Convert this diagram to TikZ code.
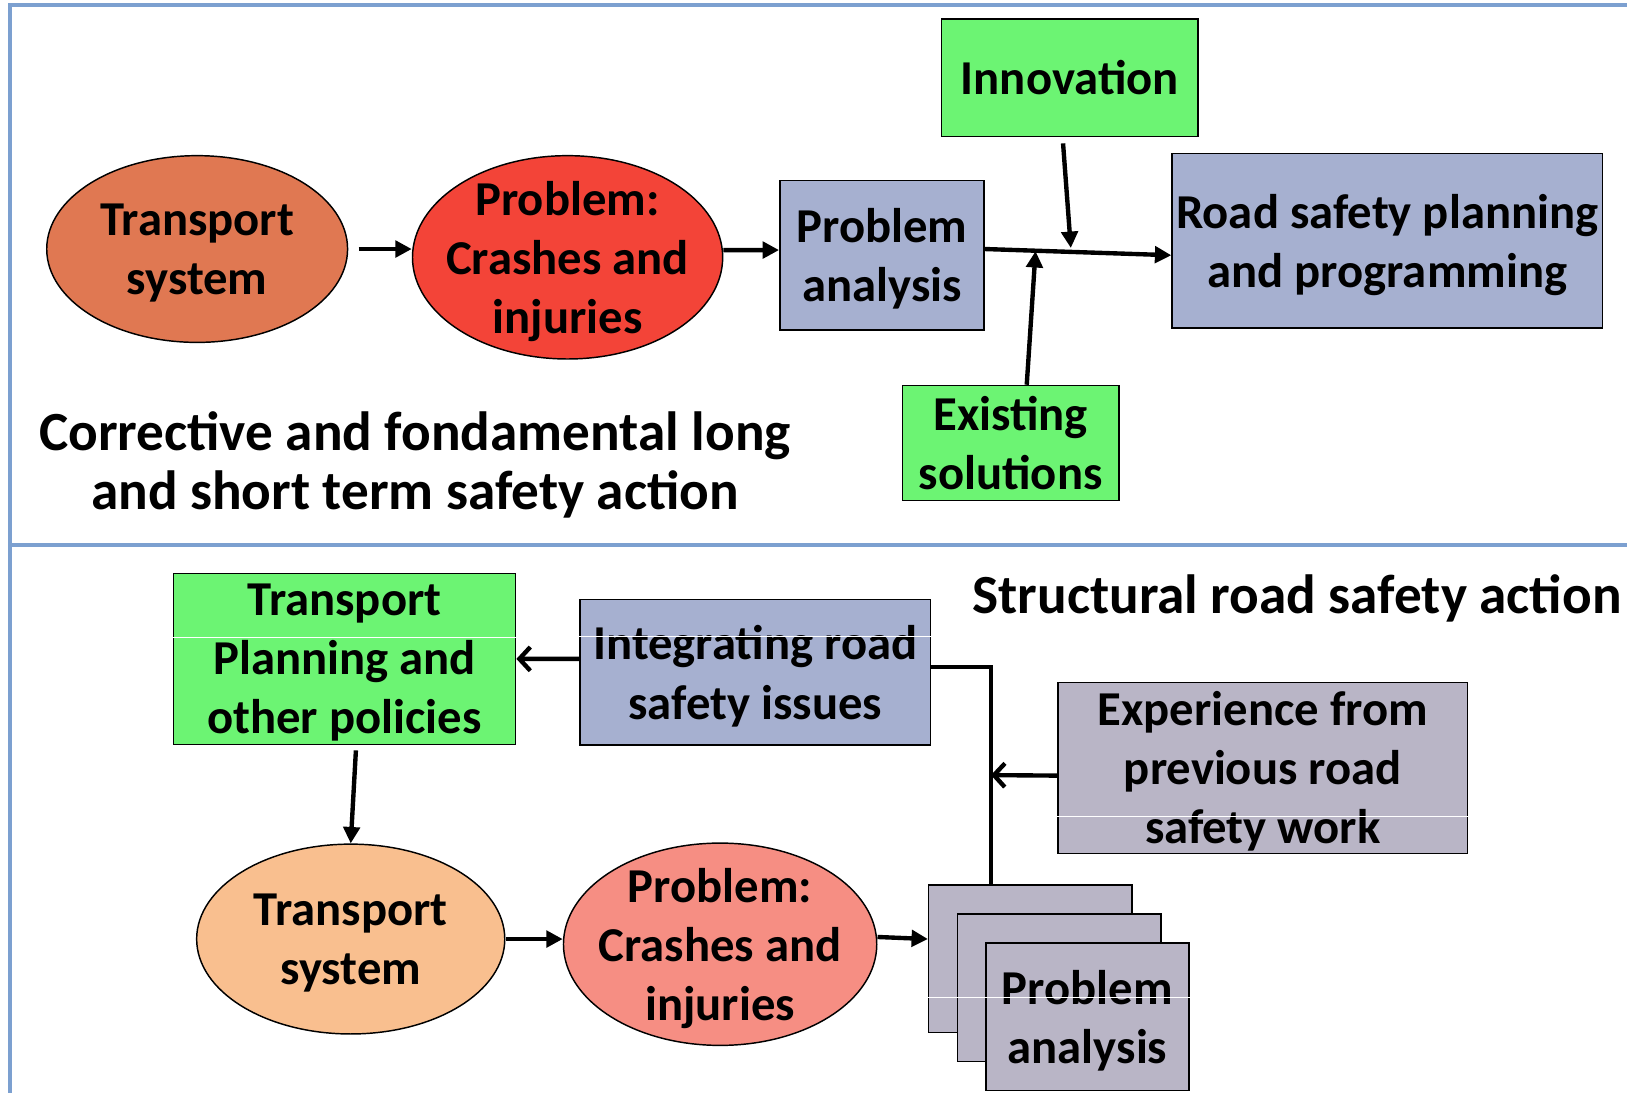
\documentclass[tikz,border=0pt]{standalone}
\usepackage{fontspec}
\setmainfont{Carlito}
\usetikzlibrary{arrows.meta,shapes.geometric}

\definecolor{ovalA}{RGB}{224,120,82}
\definecolor{ovalB}{RGB}{243,68,56}
\definecolor{ovalC}{RGB}{249,191,143}
\definecolor{ovalD}{RGB}{246,142,131}
\definecolor{boxblue}{RGB}{166,176,208}
\definecolor{boxgreen}{RGB}{108,244,115}
\definecolor{boxgrey}{RGB}{185,181,198}
\definecolor{framecol}{RGB}{124,160,208}
\newcommand\lbl{\fontsize{26.7}{32.4}\selectfont\bfseries}
\newcommand\hdl{\fontsize{30.3}{32}\selectfont\bfseries}

\begin{document}
\begin{tikzpicture}[x=0.02cm,y=-0.02cm,->,>={Triangle[length=9pt,width=9pt]},line width=2.4pt,
                main node/.style={ellipse,draw,line width=0.8pt,inner sep=-0.8cm,text depth=0pt,align=center,font=\lbl},
                box node/.style={rectangle,draw,line width=0.8pt,inner sep=0pt,text depth=0pt,align=center,font=\lbl},
                open/.style={-{Straight Barb[length=6pt,width=13pt]}},
                glare/.style={-,white,line width=0.6pt}]

  \useasboundingbox (0,0) rectangle (1568,1053);
  \fill[white] (0,0) rectangle (1568,1053);

  % frame
  \draw[-,framecol,line width=2.2pt] (1568,5) -- (10,5) -- (10,1053);
  \draw[-,framecol,line width=2.2pt] (10,525) -- (1568,525);

  % corrective action
  \node[main node,fill=ovalA,minimum width=5.8cm,minimum height=3.6cm] (1) at (190,240) {Transport\\system};
  \node[main node,fill=ovalB,minimum width=5.98cm,minimum height=3.92cm] (2) at (547,248) {Problem:\\Crashes and\\injuries};
  \node[box node,fill=boxblue,minimum width=3.94cm,minimum height=2.88cm] (3) at (850,246) {Problem\\analysis};
  \node[box node,fill=boxgreen,minimum width=4.94cm,minimum height=2.26cm] (4) at (1031,75) {Innovation};
  \node[box node,fill=boxblue,minimum width=8.3cm,minimum height=3.36cm] (5) at (1337,232) {Road safety planning\\and programming};
  \node[box node,fill=boxgreen,minimum width=4.18cm,minimum height=2.22cm] (6) at (974,427) {Existing\\solutions};
  \node[align=center,font=\hdl] (t1) at (400,448) {Corrective and fondamental long\\and short term safety action};

  \coordinate (m1) at (1032,239);
  \coordinate (m2) at (998,242);

  \path
    ([xshift=0.2cm]1.east) edge (2.west |- 1.east)
    ([yshift=0.14cm]2.east) edge ([yshift=0.1cm]3.west)
    ([yshift=0.12cm]3.east) edge ([yshift=-0.28cm]5.west)
    ([xshift=-0.13cm,yshift=-0.12cm]4.south) edge (m1)
    ([xshift=0.31cm]6.north) edge (m2);

  % structural action
  \node[font=\hdl] (t2) at (1250,577) {Structural road safety action};
  \node[box node,fill=boxgreen,minimum width=6.6cm,minimum height=3.3cm] (7) at (332,635) {Transport\\Planning and\\other policies};
  \node[box node,fill=boxblue,minimum width=6.76cm,minimum height=2.8cm] (8) at (728,648) {Integrating road\\safety issues};
  \node[box node,fill=boxgrey,minimum width=7.9cm,minimum height=3.3cm] (9) at (1217,740) {Experience from\\previous road\\safety work};
  \node[main node,fill=ovalC,minimum width=5.94cm,minimum height=3.66cm] (10) at (338,905) {Transport\\system};
  \node[main node,fill=ovalD,minimum width=6.04cm,minimum height=3.9cm] (11) at (694,910) {Problem:\\Crashes and\\injuries};
  \node[box node,fill=boxgrey,minimum width=3.92cm,minimum height=2.84cm] (12) at (993,924) {};
  \node[box node,fill=boxgrey,minimum width=3.92cm,minimum height=2.84cm] (13) at (1021,952) {};
  \node[box node,fill=boxgrey,minimum width=3.92cm,minimum height=2.84cm] (14) at (1048,980) {Problem\\analysis};

  \draw[glare] (7.west |- 0,614) -- (7.east |- 0,614);
  \draw[glare] (8.west |- 0,613) -- (8.east |- 0,613);
  \draw[glare] (9.west |- 0,787) -- (9.east |- 0,787);
  \draw[glare] (12.west |- 0,961) -- (14.east |- 0,961);

  \coordinate (m3) at (955,747);

  \path
    ([yshift=0.26cm]8.west) edge[open] (7.east)
    ([xshift=0.22cm,yshift=-0.1cm]7.south) edge (10.north)
    (10.east) edge (11.west |- 10.east)
    ([yshift=0.14cm]11.east) edge (12.west |- 10.east)
    ([yshift=-0.15cm]9.west) edge[open] (m3);
  \draw[-] ([xshift=-0.76cm]12.north) |- ([yshift=0.1cm]8.east);
\end{tikzpicture}
\end{document}
